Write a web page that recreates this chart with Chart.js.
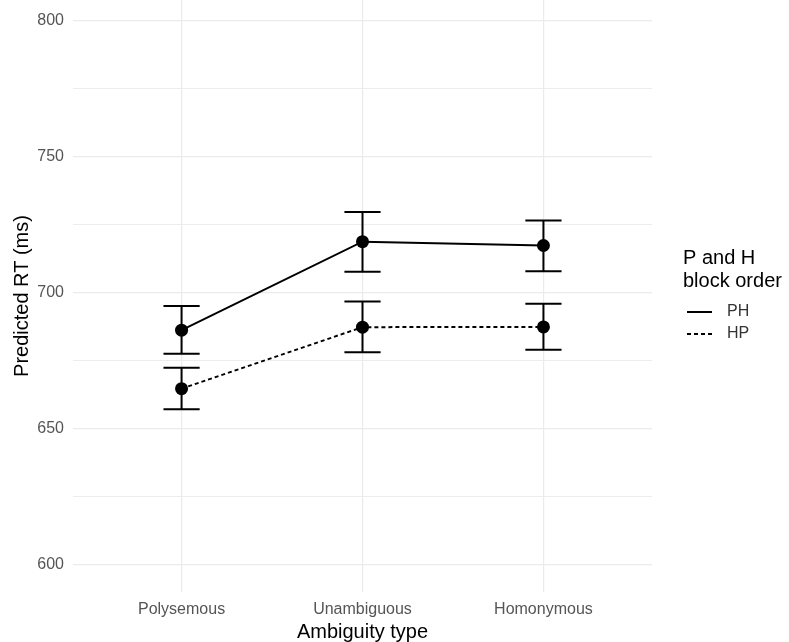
<!DOCTYPE html>
<html>
<head>
<meta charset="utf-8">
<script src="https://cdn.jsdelivr.net/npm/chart.js@4/dist/chart.umd.min.js"></script>
<style>
  html, body { margin: 0; padding: 0; background: #ffffff; }
  #wrap { width: 789px; height: 642px; }
</style>
</head>
<body>
<div id="wrap"><canvas id="c" width="789" height="642"></canvas></div>
<script>
// ---- data ----
const categories = ['Polysemous', 'Unambiguous', 'Homonymous'];
const seriesNames = ['PH', 'HP'];
const phMean  = [686.2, 718.7, 717.3];
const phLower = [677.5, 707.7, 707.8];
const phUpper = [695.1, 729.6, 726.5];
const hpMean  = [664.7, 687.3, 687.4];
const hpLower = [657.1, 678.1, 679.0];
const hpUpper = [672.4, 696.7, 695.9];
const yTicks = [600, 625, 650, 675, 700, 725, 750, 775, 800];
const yLabelStep = 50;
const legendTitle = ['P and H', 'block order'];
const xTitle = 'Ambiguity type';
const yTitle = 'Predicted RT (ms)';

const FONT = 'Arial, "Liberation Sans", Helvetica, sans-serif';
const TICK_COLOR = '#555555';
const GRID_COLOR = '#ebebeb';

function pts(vals) { return vals.map((v, i) => ({ x: i + 1, y: v })); }

const errorBarPlugin = {
  id: 'errorBars',
  beforeDatasetsDraw(chart) {
    const { ctx, scales: { x, y } } = chart;
    const capHalf = 0.1;
    ctx.save();
    ctx.strokeStyle = '#000000';
    ctx.lineWidth = 2;
    ctx.setLineDash([]);
    chart.data.datasets.forEach(ds => {
      ds.lower.forEach((lo, i) => {
        const hi = ds.upper[i];
        const xc = x.getPixelForValue(i + 1);
        const xl = x.getPixelForValue(i + 1 - capHalf);
        const xr = x.getPixelForValue(i + 1 + capHalf);
        const yl = y.getPixelForValue(lo);
        const yh = y.getPixelForValue(hi);
        ctx.beginPath();
        ctx.moveTo(xc, yl); ctx.lineTo(xc, yh);
        ctx.moveTo(xl, yl); ctx.lineTo(xr, yl);
        ctx.moveTo(xl, yh); ctx.lineTo(xr, yh);
        ctx.stroke();
      });
    });
    ctx.restore();
  }
};

const legendPlugin = {
  id: 'customLegend',
  afterDraw(chart) {
    const { ctx } = chart;
    const left = 683;
    ctx.save();
    ctx.fillStyle = '#000000';
    ctx.font = '20px ' + FONT;
    ctx.textAlign = 'left';
    ctx.textBaseline = 'middle';
    legendTitle.forEach((t, i) => ctx.fillText(t, left, 258 + i * 23));
    ctx.font = '16px ' + FONT;
    chart.data.datasets.forEach((ds, i) => {
      const yy = 312 + i * 22;
      ctx.strokeStyle = '#000000';
      ctx.lineWidth = 2;
      ctx.setLineDash(ds.borderDash || []);
      ctx.beginPath();
      ctx.moveTo(left + 4, yy);
      ctx.lineTo(left + 29, yy);
      ctx.stroke();
      ctx.setLineDash([]);
      ctx.fillStyle = '#333333';
      ctx.fillText(ds.label, left + 44, yy);
    });
    ctx.restore();
  }
};

const datasets = [
  { label: seriesNames[0], data: pts(phMean), lower: phLower, upper: phUpper, borderDash: [] },
  { label: seriesNames[1], data: pts(hpMean), lower: hpLower, upper: hpUpper, borderDash: [4, 3] }
].map(d => Object.assign({
  borderColor: '#000000',
  borderWidth: 2,
  backgroundColor: '#000000',
  pointBackgroundColor: '#000000',
  pointBorderColor: '#000000',
  pointBorderWidth: 0,
  pointRadius: 6.5,
  tension: 0,
  fill: false
}, d));

new Chart(document.getElementById('c'), {
  type: 'line',
  data: { datasets },
  options: {
    responsive: false,
    animation: false,
    events: [],
    layout: { autoPadding: false, padding: { left: 0, right: 137, top: 0, bottom: 0 } },
    plugins: { legend: { display: false }, tooltip: { enabled: false } },
    scales: {
      x: {
        type: 'linear',
        min: 0.4,
        max: 3.6,
        afterBuildTicks: s => { s.ticks = categories.map((c, i) => ({ value: i + 1 })); },
        afterFit: s => { s.height = 50; s.paddingLeft = 0; s.paddingRight = 0; },
        border: { display: false },
        grid: { color: GRID_COLOR, lineWidth: 1.2, drawTicks: false },
        ticks: {
          padding: 8,
          color: TICK_COLOR,
          font: { family: FONT, size: 16 },
          maxRotation: 0,
          autoSkip: false,
          callback: v => categories[Math.round(v) - 1]
        },
        title: {
          display: true, text: xTitle, color: '#000000',
          font: { family: FONT, size: 20, lineHeight: 1 },
          padding: { top: 0, bottom: 0 }
        }
      },
      y: {
        type: 'linear',
        min: 590,
        max: 807.5,
        afterBuildTicks: s => { s.ticks = yTicks.map(v => ({ value: v })); },
        afterFit: s => { s.width = 73; s.paddingTop = 0; s.paddingBottom = 0; },
        border: { display: false },
        grid: {
          color: GRID_COLOR,
          lineWidth: c => (c.tick && c.tick.value % yLabelStep === 0) ? 1.2 : 0.9,
          drawTicks: false
        },
        ticks: {
          padding: 9,
          color: TICK_COLOR,
          font: { family: FONT, size: 16 },
          autoSkip: false,
          callback: v => (v % yLabelStep === 0 ? String(v) : '')
        },
        title: {
          display: true, text: yTitle, color: '#000000',
          font: { family: FONT, size: 20, lineHeight: 1 },
          padding: { top: 12, bottom: 0 }
        }
      }
    }
  },
  plugins: [errorBarPlugin, legendPlugin]
});
</script>
</body>
</html>
